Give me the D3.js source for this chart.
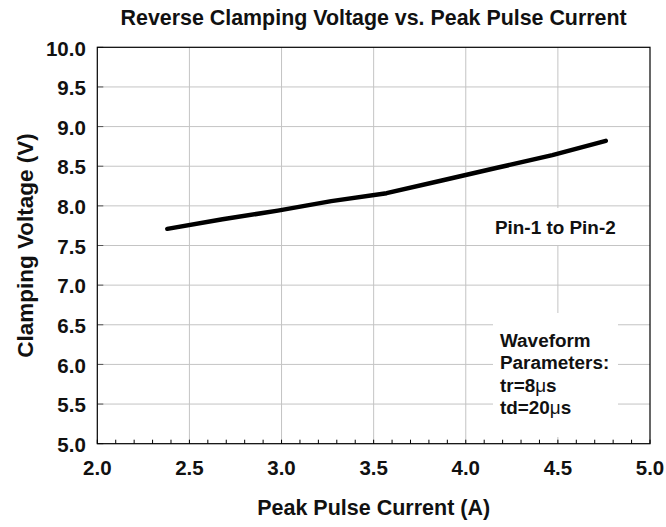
<!DOCTYPE html>
<html>
<head>
<meta charset="utf-8">
<script src="https://cdn.jsdelivr.net/npm/d3@7"></script>
<style>
    body { margin: 0; background: #fff; }
    text { font-family: "Liberation Sans", Arial, sans-serif; font-weight: bold; fill: #111; }
</style>
</head>
<body>
<div id="chart"></div>
<script>
// values
const currents = [2.38, 2.68, 2.98, 3.27, 3.57, 3.87, 4.17, 4.47, 4.76];
const voltages = [7.71, 7.83, 7.94, 8.06, 8.16, 8.32, 8.48, 8.64, 8.82];
const xTicks = [2.0, 2.5, 3.0, 3.5, 4.0, 4.5, 5.0];
const yTicks = [5.0, 5.5, 6.0, 6.5, 7.0, 7.5, 8.0, 8.5, 9.0, 9.5, 10.0];
const xMinorTicks = d3.range(20, 51).map(d => d / 10);
const waveformLines = ["Waveform", "Parameters:", "tr=8", "td=20"];

const svg_width = 666, svg_height = 527;
const margin = { top: 47.3, right: 16, bottom: 83.3, left: 97.3 };
const width = svg_width - margin.left - margin.right,
    height = svg_height - margin.top - margin.bottom;

let svg = d3.select("#chart")
    .append("svg")
    .attr("width", svg_width)
    .attr("height", svg_height)
    .append("g")
    .attr("transform", "translate(" + margin.left + "," + margin.top + ")");

let xScale = d3.scaleLinear().domain([2, 5]).range([0, width]);
let yScale = d3.scaleLinear().domain([5, 10]).range([height, 0]);

// grid lines
svg.append("g")
    .selectAll("line")
    .data(xTicks.slice(1, -1))
    .enter()
    .append("line")
    .attr("x1", d => xScale(d)).attr("x2", d => xScale(d))
    .attr("y1", 0).attr("y2", height)
    .style("stroke", "#c4c4c4").style("stroke-width", 1);
svg.append("g")
    .selectAll("line")
    .data(yTicks.slice(1, -1))
    .enter()
    .append("line")
    .attr("x1", 0).attr("x2", width)
    .attr("y1", d => yScale(d)).attr("y2", d => yScale(d))
    .style("stroke", "#c4c4c4").style("stroke-width", 1);

// white boxes behind the notes
svg.append("rect")
    .attr("x", 493 - margin.left).attr("y", 313 - margin.top)
    .attr("width", 125).attr("height", 124)
    .style("fill", "#fff");
svg.append("rect")
    .attr("x", 470 - margin.left).attr("y", 208 - margin.top)
    .attr("width", 170).attr("height", 37)
    .style("fill", "#fff");

// tick marks inside the frame
svg.append("g")
    .selectAll("line")
    .data(xMinorTicks)
    .enter()
    .append("line")
    .attr("x1", d => xScale(d)).attr("x2", d => xScale(d))
    .attr("y1", height).attr("y2", height - 4)
    .style("stroke", "#000").style("stroke-width", 1);
svg.append("g")
    .selectAll("line")
    .data(yTicks)
    .enter()
    .append("line")
    .attr("x1", 0).attr("x2", 6)
    .attr("y1", d => yScale(d)).attr("y2", d => yScale(d))
    .style("stroke", "#555").style("stroke-width", 1);

// frame
svg.append("rect")
    .attr("x", 0).attr("y", 0)
    .attr("width", width).attr("height", height)
    .style("fill", "none").style("stroke", "#000").style("stroke-width", 1.2);

// tick labels
svg.append("g")
    .selectAll("text")
    .data(xTicks)
    .enter()
    .append("text")
    .attr("x", d => xScale(d))
    .attr("y", height + 31.3)
    .attr("text-anchor", "middle")
    .style("font-size", "20.5px")
    .text(d => d.toFixed(1));
svg.append("g")
    .selectAll("text")
    .data(yTicks)
    .enter()
    .append("text")
    .attr("x", -11.5)
    .attr("y", d => yScale(d))
    .attr("dy", "0.4em")
    .attr("text-anchor", "end")
    .style("font-size", "20.5px")
    .text(d => d.toFixed(1));

// data line
let line = d3.line()
    .x((d, i) => xScale(currents[i]))
    .y(d => yScale(d));
svg.append("path")
    .datum(voltages)
    .attr("d", line)
    .style("fill", "none")
    .style("stroke", "#000")
    .style("stroke-width", 4.5)
    .style("stroke-linecap", "round")
    .style("stroke-linejoin", "round");

// title and axis labels
svg.append("text")
    .attr("x", width / 2)
    .attr("y", 25 - margin.top)
    .attr("text-anchor", "middle")
    .style("font-size", "21.4px")
    .text("Reverse Clamping Voltage vs. Peak Pulse Current");
svg.append("text")
    .attr("x", width / 2)
    .attr("y", 515 - margin.top)
    .attr("text-anchor", "middle")
    .style("font-size", "21.5px")
    .text("Peak Pulse Current (A)");
svg.append("text")
    .attr("text-anchor", "middle")
    .attr("transform", "translate(" + (33 - margin.left) + "," + (height / 2) + ") rotate(-90)")
    .style("font-size", "22.5px")
    .text("Clamping Voltage (V)");

// notes
svg.append("text")
    .attr("x", 495 - margin.left)
    .attr("y", 234 - margin.top)
    .style("font-size", "18.9px")
    .text("Pin-1 to Pin-2");

let note = svg.append("text")
    .attr("x", 500 - margin.left)
    .attr("y", 346.7 - margin.top)
    .style("font-size", "18.9px");
waveformLines.forEach((t, i) => {
    let ts = note.append("tspan")
        .attr("x", 500 - margin.left)
        .attr("dy", i === 0 ? 0 : 22.5)
        .text(t);
    if (i >= 2) {
        note.append("tspan").style("font-weight", "normal").text("\u03bc");
        note.append("tspan").text("s");
    }
});
</script>
</body>
</html>
